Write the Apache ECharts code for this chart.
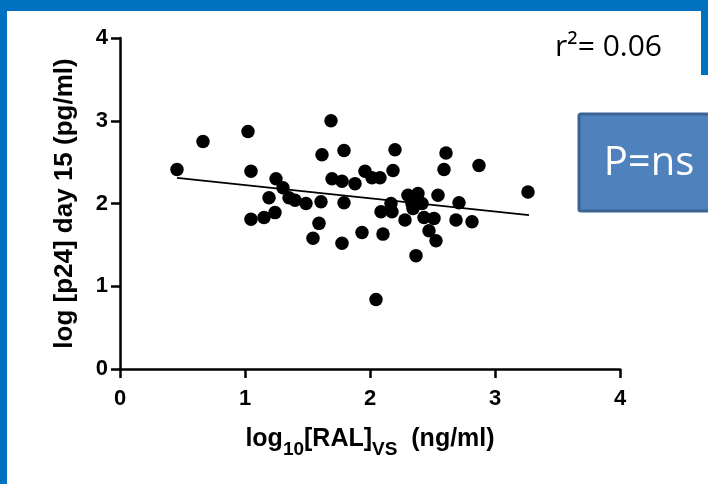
<!DOCTYPE html>
<html>
<head>
<meta charset="utf-8">
<script src="https://cdn.jsdelivr.net/npm/echarts@6/dist/echarts.min.js"></script>
<style>
html,body{margin:0;padding:0;background:#fff;}
#chart{width:708px;height:484px;}
</style>
</head>
<body>
<div id="chart"></div>
<script>
// RAL log10 concentration (x) and log p24 day 15 (y)
const ralLog = [0.456,0.664,1.024,1.048,1.048,1.152,1.192,1.24,1.248,1.304,1.352,1.40,1.488,1.608,1.592,1.544,1.616,1.688,1.696,1.776,1.792,1.792,1.776,1.88,1.936,1.96,2.016,2.08,2.048,2.088,2.104,2.168,2.176,2.184,2.20,2.28,2.304,2.344,2.336,2.384,2.416,2.432,2.368,2.512,2.472,2.528,2.544,2.592,2.608,2.688,2.712,2.816,2.872,3.264];
const p24Log = [2.41,2.75,2.87,2.39,1.81,1.83,2.07,1.89,2.30,2.19,2.07,2.04,2.00,2.02,1.76,1.58,2.59,3.00,2.30,2.27,2.64,2.01,1.52,2.24,1.65,2.39,2.31,2.31,0.84,1.90,1.63,2.00,1.90,2.40,2.65,1.80,2.10,1.94,2.00,2.12,2.00,1.83,1.37,1.82,1.67,1.55,2.10,2.41,2.61,1.80,2.01,1.78,2.46,2.14];
// regression line end points
const fitX = [0.456, 3.272];
const fitY = [2.31, 1.86];
const xTicks = [0,1,2,3,4];
const yTicks = [0,1,2,3,4];
const r2Text = 'r\u00B2= 0.06';
const pText = 'P=ns';

const chart = echarts.init(document.getElementById('chart'));
const pts = ralLog.map((x,i)=>[x,p24Log[i]]);
const fit = fitX.map((x,i)=>[x,fitY[i]]);
const axisFont = 'Liberation Sans, Arial, sans-serif';

chart.setOption({
  animation:false,
  backgroundColor:'#ffffff',
  grid:{left:120,right:88,top:38,bottom:115,containLabel:false},
  xAxis:{
    type:'value',min:xTicks[0],max:xTicks[xTicks.length-1],interval:1,
    axisLine:{show:true,lineStyle:{color:'#000',width:2.5}},
    axisTick:{show:true,length:9,lineStyle:{color:'#000',width:2.5}},
    axisLabel:{color:'#000',fontSize:22,fontWeight:'bold',fontFamily:axisFont,margin:19},
    splitLine:{show:false},
    name:'{a|log}{b|10}{a|[RAL]}{b|VS}{a|  (ng/ml)}',
    nameLocation:'middle',nameGap:58,
    nameTextStyle:{
      color:'#000',
      rich:{
        a:{fontSize:25,fontWeight:'bold',fontFamily:axisFont,color:'#000',lineHeight:25,verticalAlign:'top'},
        b:{fontSize:19,fontWeight:'bold',fontFamily:axisFont,color:'#000',lineHeight:19,verticalAlign:'top',padding:[13,0,0,0]}
      }
    }
  },
  yAxis:{
    type:'value',min:yTicks[0],max:yTicks[yTicks.length-1],interval:1,
    axisLine:{show:true,lineStyle:{color:'#000',width:2.5}},
    axisTick:{show:true,length:9,lineStyle:{color:'#000',width:2.5}},
    axisLabel:{color:'#000',fontSize:22,fontWeight:'bold',fontFamily:axisFont,margin:12},
    splitLine:{show:false},
    name:'log [p24] day 15 (pg/ml)',
    nameLocation:'middle',nameGap:42,nameRotate:90,
    nameTextStyle:{color:'#000',fontSize:26,fontWeight:'bold',fontFamily:axisFont}
  },
  series:[
    {type:'scatter',data:pts,symbol:'circle',symbolSize:13.5,itemStyle:{color:'#000',opacity:1},z:3},
    {type:'line',data:fit,symbol:'none',lineStyle:{color:'#000',width:1.8},z:2}
  ],
  graphic:[
    {type:'rect',shape:{x:0,y:0,width:708,height:11},style:{fill:'#0070C0'},silent:true},
    {type:'rect',shape:{x:0,y:0,width:7,height:484},style:{fill:'#0070C0'},silent:true},
    {type:'rect',shape:{x:701,y:0,width:7,height:75},style:{fill:'#0070C0'},silent:true},
    {type:'text',left:555,top:32,style:{text:r2Text,font:'30px "Open Sans", sans-serif',fill:'#000'}},
    {type:'rect',shape:{x:579,y:114,width:132,height:97,r:2},style:{fill:'#4F81BD',stroke:'#3B6494',lineWidth:3}},
    {type:'text',x:649,y:164,style:{text:pText,font:'40px "Open Sans", sans-serif',fill:'#fff',align:'center',verticalAlign:'middle'}}
  ]
});
</script>
</body>
</html>
